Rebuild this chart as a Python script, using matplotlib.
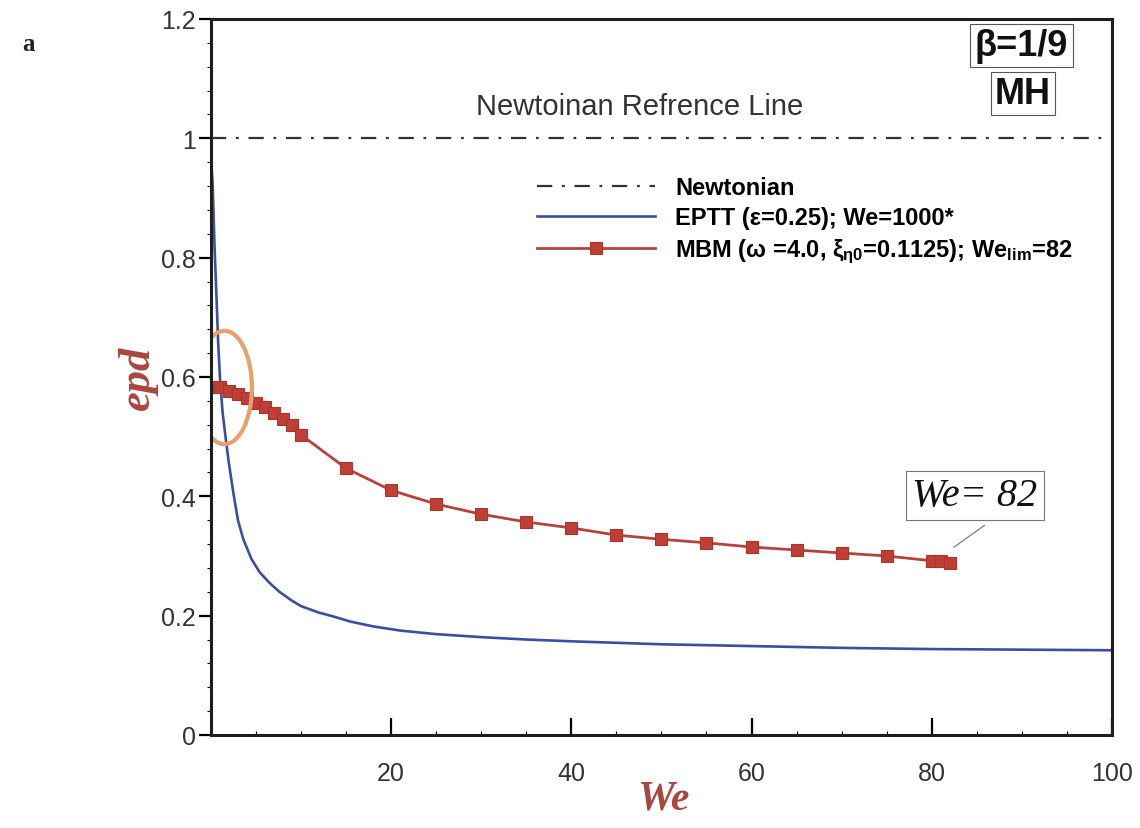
import matplotlib
matplotlib.use("Agg")
import matplotlib.pyplot as plt
from matplotlib.patches import Ellipse
from matplotlib.ticker import MultipleLocator, FixedLocator
from matplotlib import font_manager

# data
we_eptt = [0.05, 0.2, 0.4, 0.63, 0.8, 1.0, 1.3, 1.7, 2.0, 2.5, 3.0, 3.6, 4.5, 5.4, 6.5,
           7.6, 9.0, 10.0, 12.0, 13.5, 15.5, 18.0, 21.0, 25.0, 30.0, 35.0, 40.0, 50.0,
           60.0, 70.0, 80.0, 90.0, 100.0]
epd_eptt = [0.96, 0.92, 0.82, 0.73, 0.66, 0.60, 0.54, 0.49, 0.455, 0.405, 0.36, 0.328,
            0.295, 0.273, 0.255, 0.24, 0.225, 0.216, 0.205, 0.199, 0.19, 0.182, 0.175,
            0.169, 0.164, 0.160, 0.157, 0.152, 0.149, 0.146, 0.144, 0.143, 0.142]

we_mbm = [0.1, 1, 2, 3, 4, 5, 6, 7, 8, 9, 10, 15, 20, 25, 30, 35, 40, 45, 50, 55, 60,
          65, 70, 75, 80, 81, 82]
epd_mbm = [0.583, 0.583, 0.577, 0.571, 0.565, 0.557, 0.549, 0.54, 0.529, 0.519, 0.503,
           0.447, 0.41, 0.387, 0.37, 0.357, 0.347, 0.335, 0.328, 0.322, 0.315, 0.31,
           0.305, 0.300, 0.292, 0.291, 0.289]

newt_x = [0, 100]
newt_y = [1.0, 1.0]

x_ticks = [20, 40, 60, 80, 100]
y_ticks = [0, 0.2, 0.4, 0.6, 0.8, 1.0, 1.2]
y_ticklabels = ["0", "0.2", "0.4", "0.6", "0.8", "1", "1.2"]

names = {f.name for f in font_manager.fontManager.ttflist}
tick_font = "Liberation Sans Narrow" if "Liberation Sans Narrow" in names else "Liberation Sans"

plt.rcParams['font.family'] = ['Liberation Sans', 'DejaVu Sans']
plt.rcParams['mathtext.fontset'] = 'custom'
plt.rcParams['mathtext.rm'] = 'Liberation Sans'
plt.rcParams['mathtext.it'] = 'Liberation Sans:italic'
plt.rcParams['mathtext.bf'] = 'Liberation Sans:bold'
plt.rcParams['lines.scale_dashes'] = False

red = "#b5433d"
blue = "#3d4e9e"
dark_red = "#a8463f"

fig = plt.figure(figsize=(11.4, 8.29), dpi=100)
ax = fig.add_axes([0.185, 0.1122, 0.7904, 0.8637])

ax.plot(newt_x, newt_y, color="#333333", lw=1.6, dashes=(11, 7, 2, 7),
        label="Newtonian", zorder=2)
ax.plot(we_eptt, epd_eptt, color=blue, lw=1.9,
        label="EPTT (ε=0.25); We=1000*", zorder=3)
ax.plot(we_mbm, epd_mbm, color=red, lw=2.0, marker="s", ms=8,
        mfc="#bf3f36", mec="#a8352e", mew=0.8,
        label=r"MBM (ω =4.0, ξ$_{\mathregular{η0}}$=0.1125); We$_{\mathregular{lim}}$=82",
        zorder=4)

ax.set_xlim(0, 100)
ax.set_ylim(0, 1.2)

# ellipse highlighting the low-We region
ell = Ellipse((1.5, 0.5824), 6.1, 0.19, fill=False, ec="#eaa06c", lw=3, zorder=5)
ax.add_patch(ell)

# spines / ticks
for s in ax.spines.values():
    s.set_linewidth(2.2)
    s.set_color("#1e1e1e")
    s.set_zorder(6)

ax.xaxis.set_major_locator(FixedLocator(x_ticks))
ax.xaxis.set_minor_locator(MultipleLocator(5))
ax.yaxis.set_major_locator(FixedLocator(y_ticks))
ax.yaxis.set_minor_locator(MultipleLocator(0.04))
ax.set_yticklabels(y_ticklabels)

ax.tick_params(axis="x", which="major", direction="in", length=12, width=1.6,
               pad=19, labelsize=18, labelcolor="#333333")
ax.tick_params(axis="x", which="minor", direction="in", length=3, width=0.8)
ax.tick_params(axis="y", which="major", direction="out", length=9, width=1.6,
               pad=2, labelsize=18, labelcolor="#333333")
ax.tick_params(axis="y", which="minor", direction="out", length=3, width=0.8)
for lab in ax.get_xticklabels() + ax.get_yticklabels():
    lab.set_fontfamily(tick_font)

leg = ax.legend(loc="upper left", bbox_to_anchor=(0.349, 0.797), frameon=False,
                borderpad=0, handlelength=5.0, handletextpad=0.85, labelspacing=0.3,
                numpoints=1, prop={"size": 17, "weight": "bold"})

# text annotations
ax.text(0.476, 0.8785, "Newtoinan Refrence Line", transform=ax.transAxes,
        ha="center", va="center", fontsize=21, color="#333333")

box = dict(boxstyle="square,pad=0.12", fc="white", ec="#555555", lw=0.8)
ax.text(0.8996, 0.963, "β=1/9", transform=ax.transAxes, ha="center", va="center",
        fontsize=26, fontweight="bold", color="#111111", bbox=box)
ax.text(0.9014, 0.896, "MH", transform=ax.transAxes, ha="center", va="center",
        fontsize=26, fontweight="bold", color="#111111", bbox=box)

ax.annotate("", xy=(82.2, 0.312), xytext=(86.1, 0.354),
            arrowprops=dict(arrowstyle="-", color="#888888", lw=1.0))
ax.text(84.8, 0.402, "We= 82", ha="center", va="center", fontsize=29,
        fontstyle="italic", family="Liberation Serif", color="#111111",
        bbox=dict(boxstyle="square,pad=0.15", fc="white", ec="#777777", lw=0.8))

fig.text(0.121, 0.544, "epd", rotation=90, ha="center", va="center", fontsize=32,
         fontweight="bold", fontstyle="italic", family="Liberation Serif", color=dark_red)
fig.text(0.582, 0.035, "We", ha="center", va="center", fontsize=30,
         fontweight="bold", fontstyle="italic", family="Liberation Serif", color=dark_red)
fig.text(0.0246, 0.946, "a", ha="center", va="center", fontsize=18,
         fontweight="bold", family="Liberation Serif", color="#222222")

fig.savefig("out.png", dpi=100, facecolor="white")
